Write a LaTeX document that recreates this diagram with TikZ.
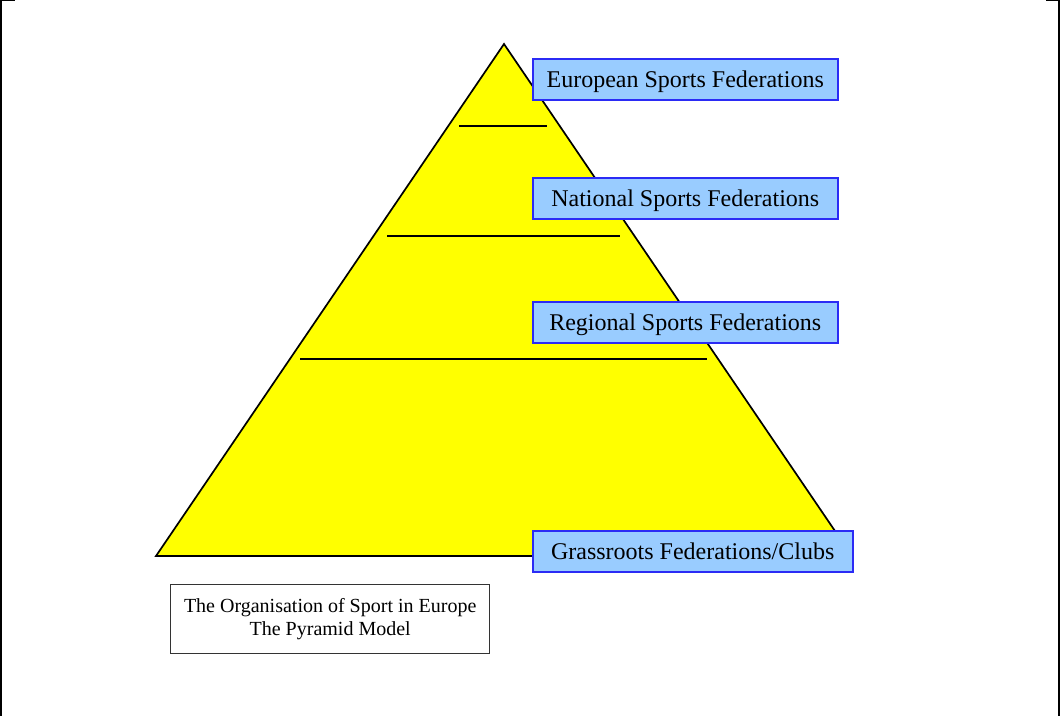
\documentclass[tikz,border=0pt]{standalone}
\usepackage{fontspec}
\setmainfont{Liberation Serif}
\begin{document}
\begin{tikzpicture}[x=1pt,y=-1pt,
  tier/.style={draw=tierblue,fill=tierfill,line width=1.5pt,minimum height=41pt,
    inner sep=0pt,text height=16pt,text depth=0pt,anchor=north west,
    font=\fontsize{24}{26}\selectfont},
  caption/.style={draw=black!80,line width=1.4pt,inner sep=0pt,anchor=north west,
    align=center,font=\fontsize{20}{23}\selectfont},
  divider/.style={line width=1.4pt,black}]
\definecolor{tierblue}{HTML}{2B2BF5}
\definecolor{tierfill}{HTML}{99CCFF}
\definecolor{pyr}{HTML}{FFFF00}
\useasboundingbox (0,0) rectangle (1060,716);
% frame edges
\fill[black] (0,0) rectangle (2,716);
\draw[line width=1pt] (0,0.5) -- (15,0.5);
\fill[black] (1058,0) rectangle (1060,716);
\draw[line width=1pt] (1046,0.5) -- (1059,0.5);
% pyramid
\coordinate (apex) at (504,44);
\coordinate (bl) at (156,556);
\coordinate (br) at (852,556);
\filldraw[fill=pyr,draw=black,line width=1.7pt,line join=miter] (apex) -- (br) -- (bl) -- cycle;
% tier dividers
\coordinate (d1a) at (459,126); \coordinate (d1b) at (547,126);
\coordinate (d2a) at (387,236); \coordinate (d2b) at (620,236);
\coordinate (d3a) at (300,359); \coordinate (d3b) at (707,359);
\draw[divider] (d1a) -- (d1b);
\draw[divider] (d2a) -- (d2b);
\draw[divider] (d3a) -- (d3b);
% tier labels
\node[tier,minimum width=305pt] (eu) at (532,58) {European Sports Federations};
\node[tier,minimum width=305pt] (nat) at (532,177) {National Sports Federations};
\node[tier,minimum width=305pt] (reg) at (532,301) {Regional Sports Federations};
\node[tier,minimum width=320pt] (grass) at (532,530) {Grassroots Federations/Clubs};
% caption
\node[caption,minimum width=319pt,minimum height=69pt] (cap) at (170,584)
  {The Organisation of Sport in Europe\\The Pyramid Model};
\end{tikzpicture}
\end{document}
